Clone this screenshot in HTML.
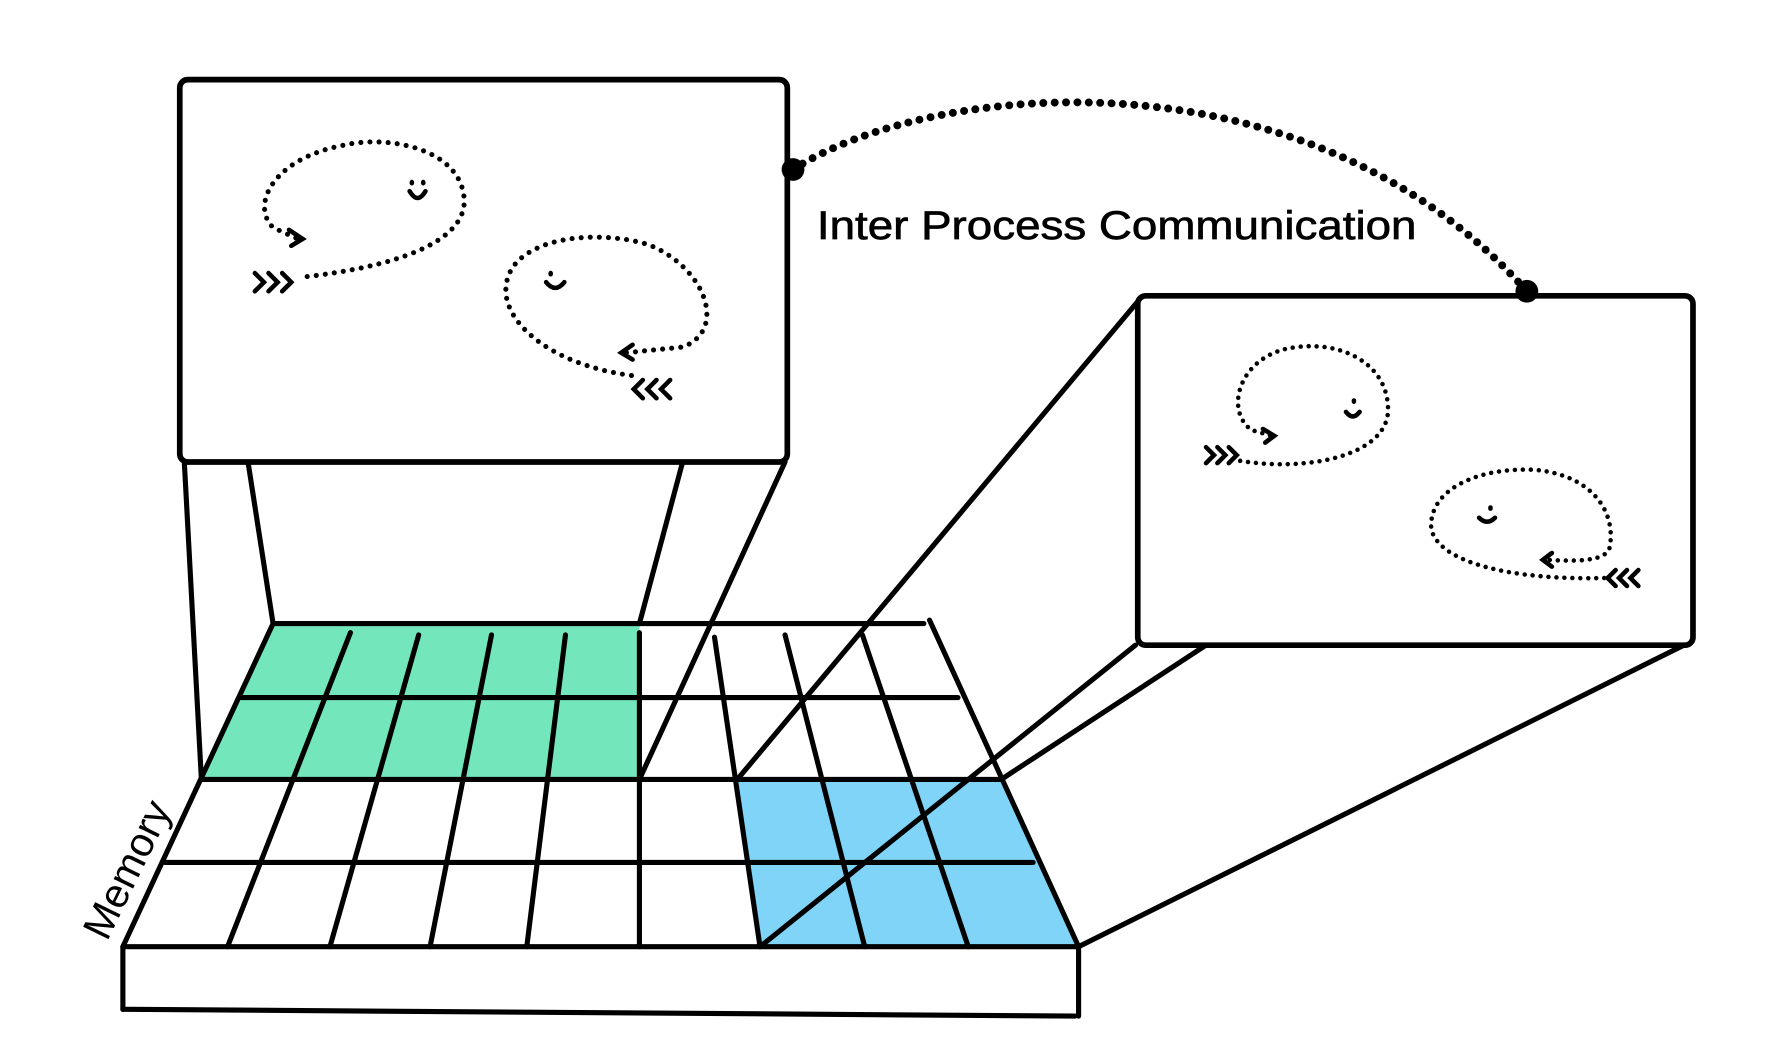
<!DOCTYPE html>
<html><head><meta charset="utf-8"><style>html,body{margin:0;padding:0;background:#fff}svg{display:block}</style></head>
<body>
<svg width="1784" height="1040" viewBox="0 0 1568 914" preserveAspectRatio="none" xmlns="http://www.w3.org/2000/svg">
<rect width="1568" height="914" fill="#fff"/>
<polygon points="240,548 562,548 562,685 177,685" fill="#74e6bb"/>
<polygon points="648,685 880,685 948,832 668,832" fill="#7fd4f7"/>
<g stroke="#000" stroke-width="4.5" fill="none" stroke-linecap="round">
<line x1="240" y1="548" x2="812" y2="548"/>
<line x1="212" y1="613" x2="842" y2="613"/>
<line x1="177" y1="685" x2="880" y2="685"/>
<line x1="145" y1="758" x2="908" y2="758"/>
<line x1="108" y1="832" x2="948" y2="832"/>
<line x1="240" y1="548" x2="108" y2="832"/>
<line x1="817" y1="545" x2="948" y2="832"/>
<line x1="308" y1="556" x2="200" y2="832"/>
<line x1="368" y1="558" x2="290" y2="832"/>
<line x1="432" y1="558" x2="378" y2="832"/>
<line x1="497" y1="558" x2="463" y2="832"/>
<line x1="562" y1="556" x2="562" y2="832"/>
<line x1="628" y1="560" x2="668" y2="832"/>
<line x1="690" y1="558" x2="760" y2="832"/>
<line x1="758" y1="558" x2="851" y2="832"/>
<line x1="108" y1="832" x2="108" y2="887"/>
<line x1="948" y1="832" x2="948" y2="893"/>
<line x1="108" y1="887" x2="945" y2="893"/>
<line x1="162" y1="406" x2="177" y2="685"/>
<line x1="218" y1="406" x2="240" y2="548"/>
<line x1="600" y1="406" x2="562" y2="548"/>
<line x1="690" y1="406" x2="562" y2="685"/>
<line x1="1000" y1="265" x2="648" y2="685"/>
<line x1="998" y1="567" x2="668" y2="832"/>
<line x1="1060" y1="567" x2="880" y2="685"/>
<line x1="1480" y1="567" x2="948" y2="832"/>
</g>
<rect x="158" y="70" width="534" height="336" rx="7" fill="#fff" stroke="#000" stroke-width="5"/>
<rect x="1000" y="260" width="488" height="307" rx="7" fill="#fff" stroke="#000" stroke-width="5"/>
<path d="M697,149 C820,70 1150,40 1342,256" fill="none" stroke="#000" stroke-width="7" stroke-dasharray="0 10" stroke-linecap="round"/>
<circle cx="697" cy="149" r="10"/>
<circle cx="1342" cy="256" r="10"/>
<text x="718" y="210" font-family="Liberation Sans, sans-serif" font-size="35" stroke="#000" stroke-width="0.6" textLength="527" lengthAdjust="spacingAndGlyphs">Inter Process Communication</text>
<g fill="none" stroke="#000" stroke-width="4.5" stroke-dasharray="0 8" stroke-linecap="round">
<path d="M270,243 C340,235 410,215 408,175 C405,130 340,118 300,128 C240,140 220,180 240,200 L262,210"/>
<path d="M555,330 C480,320 440,280 445,250 C450,210 520,200 570,215 C620,235 640,290 600,305 L550,310"/>
<path d="M1090,405 C1150,415 1220,400 1220,360 C1220,320 1180,300 1140,305 C1090,310 1075,360 1100,378 L1118,383" stroke-width="4" stroke-dasharray="0 7"/>
<path d="M1410,508 C1330,510 1265,495 1258,465 C1255,430 1300,410 1350,413 C1400,418 1420,450 1415,480 C1413,495 1380,493 1358,492" stroke-width="4" stroke-dasharray="0 7"/>
</g>
<g fill="none" stroke="#000" stroke-width="4" stroke-linecap="round">
<path d="M254,202 L266,210 L256,216"/>
<path d="M224,240 L232,248 L224,256 M236,240 L244,248 L236,256 M248,240 L256,248 L248,256"/>
<path d="M360,168 Q367,180 374,168 M362,160 L362,161 M372,160 L372,161"/>
<path d="M556,303 L546,310 L556,316"/>
<path d="M565,334 L557,342 L565,350 M577,334 L569,342 L577,350 M589,334 L581,342 L589,350"/>
<path d="M480,248 Q488,258 496,248 M484,240 L484,241"/>
<path d="M1110,377 L1120,383 L1112,389"/>
<path d="M1060,393 L1067,400 L1060,407 M1070,393 L1077,400 L1070,407 M1080,393 L1087,400 L1080,407"/>
<path d="M1183,362 Q1189,370 1195,362 M1190,352 L1190,353"/>
<path d="M1364,486 L1356,492 L1364,498"/>
<path d="M1420,501 L1413,508 L1420,515 M1430,501 L1423,508 L1430,515 M1440,501 L1433,508 L1440,515"/>
<path d="M1300,455 Q1307,462 1314,455 M1310,446 L1310,447"/>
</g>
<text transform="translate(94,828) rotate(-64)" font-family="Liberation Sans, sans-serif" font-size="36">Memory</text>
</svg>
</body></html>
